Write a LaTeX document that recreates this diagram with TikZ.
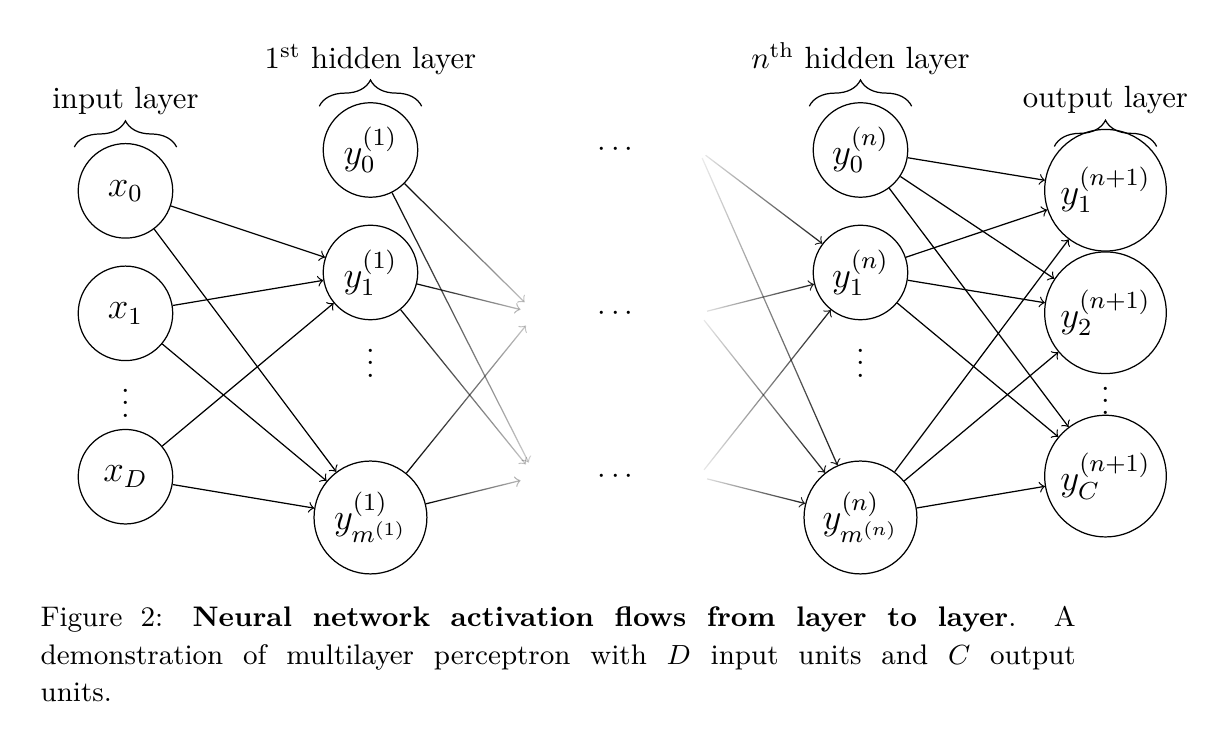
\documentclass[tikz,border=0pt]{standalone}
\usepackage{tikz}
\usepackage{xcolor}
\usetikzlibrary{positioning, decorations.pathreplacing, fadings}

\tikzfading[name=fade out, left color=transparent!0, right color=transparent!85]
\tikzfading[name=fade in, left color=transparent!95, right color=transparent!10]

\begin{document}
\begin{tikzpicture}[node distance=1.4cm]
    \tikzstyle{neuron} = [circle, draw=black, minimum size=1.08cm, inner sep=1pt, font=\large]
    \tikzstyle{bigneuron} = [neuron, minimum size=1.29cm]
    \tikzstyle{outneuron} = [neuron, minimum size=1.39cm]
    \tikzstyle{arrow} = [->]
    \tikzstyle{fadeout} = [->, path fading=fade out, shorten >=0.18cm]
    \tikzstyle{fadein} = [->, path fading=fade in, shorten <=0.1cm]
    \tikzstyle{layerbrace} = [decorate, decoration={brace, amplitude=0.3cm}]

    \useasboundingbox (-4.234,1.714) rectangle (9.686,-6.766);

    % 1st hidden layer
    \node (h10) [neuron] {$y_0^{(1)}$};
    \node (h11) [neuron, below of=h10] {$y_1^{(1)}$};
    \node (h1dots) [below of=h11, node distance=0.93cm] {$\vdots$};
    \node (h1m) [bigneuron, below of=h11, node distance=2.8cm] {$y_{m^{(1)}}^{(1)}$};

    % input layer
    \node (x0) [neuron, left of=h10, node distance=2.8cm, yshift=-0.467cm] {$x_0$};
    \node (x1) [neuron, below of=x0] {$x_1$};
    \node (xdots) [below of=x1, node distance=0.92cm] {$\vdots$};
    \node (xD) [neuron, below of=x1, node distance=1.867cm] {$x_D$};

    % layers in between
    \node (m0) [right of=h10, node distance=2.8cm] {$\cdots$};
    \node (m1) [below of=m0, node distance=1.867cm] {$\cdots$};
    \node (m2) [below of=m1, node distance=1.867cm] {$\cdots$};
    \coordinate (t1) at ([xshift=-0.91cm]m1);
    \coordinate (t2) at ([xshift=-0.91cm]m2);
    \coordinate (s0) at ([xshift=0.95cm]m0);
    \coordinate (s1) at ([xshift=0.95cm]m1);
    \coordinate (s2) at ([xshift=0.95cm]m2);

    % n-th hidden layer
    \node (hn0) [neuron, right of=m0, node distance=2.8cm] {$y_0^{(n)}$};
    \node (hn1) [neuron, below of=hn0] {$y_1^{(n)}$};
    \node (hndots) [below of=hn1, node distance=0.93cm] {$\vdots$};
    \node (hnm) [bigneuron, below of=hn1, node distance=2.8cm] {$y_{m^{(n)}}^{(n)}$};

    % output layer
    \node (o1) [outneuron, right of=hn0, node distance=2.8cm, yshift=-0.46cm] {$y_1^{(n+1)}$};
    \node (o2) [outneuron, below of=o1] {$y_2^{(n+1)}$};
    \node (odots) [below of=o2, node distance=0.9cm] {$\vdots$};
    \node (oC) [outneuron, below of=o2, node distance=1.867cm] {$y_C^{(n+1)}$};

    % braces
    \draw [layerbrace] ([xshift=-0.585cm, yshift=0.5cm]x0.center) -- ([xshift=0.585cm, yshift=0.5cm]x0.center) node[midway, anchor=base, yshift=0.44cm] {input layer};
    \draw [layerbrace] ([xshift=-0.585cm, yshift=0.5cm]h10.center) -- ([xshift=0.585cm, yshift=0.5cm]h10.center) node[midway, anchor=base, yshift=0.43cm] {1\textsuperscript{st} hidden layer};
    \draw [layerbrace] ([xshift=-0.585cm, yshift=0.5cm]hn0.center) -- ([xshift=0.585cm, yshift=0.5cm]hn0.center) node[midway, anchor=base, yshift=0.43cm] {$n^{\mathrm{th}}$ hidden layer};
    \draw [layerbrace] ([xshift=-0.585cm, yshift=0.5cm]o1.center) -- ([xshift=0.585cm, yshift=0.5cm]o1.center) node[midway, anchor=base, yshift=0.44cm] {output layer};

    % input -> 1st hidden
    \draw [arrow] (x0) -- (h11);
    \draw [arrow] (x0) -- (h1m);
    \draw [arrow] (x1) -- (h11);
    \draw [arrow] (x1) -- (h1m);
    \draw [arrow] (xD) -- (h11);
    \draw [arrow] (xD) -- (h1m);

    % 1st hidden -> next
    \draw [fadeout] (h10) -- (t1);
    \draw [fadeout] (h10) -- (t2);
    \draw [fadeout] (h11) -- (t1);
    \draw [fadeout] (h11) -- (t2);
    \draw [fadeout] (h1m) -- (t1);
    \draw [fadeout] (h1m) -- (t2);

    % previous -> n-th hidden
    \draw [fadein] (s0) -- (hn1);
    \draw [fadein] (s0) -- (hnm);
    \draw [fadein] (s1) -- (hn1);
    \draw [fadein] (s1) -- (hnm);
    \draw [fadein] (s2) -- (hn1);
    \draw [fadein] (s2) -- (hnm);

    % n-th hidden -> output
    \draw [arrow] (hn0) -- (o1);
    \draw [arrow] (hn0) -- (o2);
    \draw [arrow] (hn0) -- (oC);
    \draw [arrow] (hn1) -- (o1);
    \draw [arrow] (hn1) -- (o2);
    \draw [arrow] (hn1) -- (oC);
    \draw [arrow] (hnm) -- (o1);
    \draw [arrow] (hnm) -- (o2);
    \draw [arrow] (hnm) -- (oC);

    % caption
    \node (caption) [anchor=base west, text width=11.83cm, align=justify, inner sep=0pt, font=\fontsize{9.2}{12.2}\selectfont] at (-3.777,-5.448) {Figure 2: \textbf{Neural network activation flows from layer to layer}. A\linebreak demonstration of multilayer perceptron with $D$ input units and $C$ output\linebreak units.};
\end{tikzpicture}
\end{document}
